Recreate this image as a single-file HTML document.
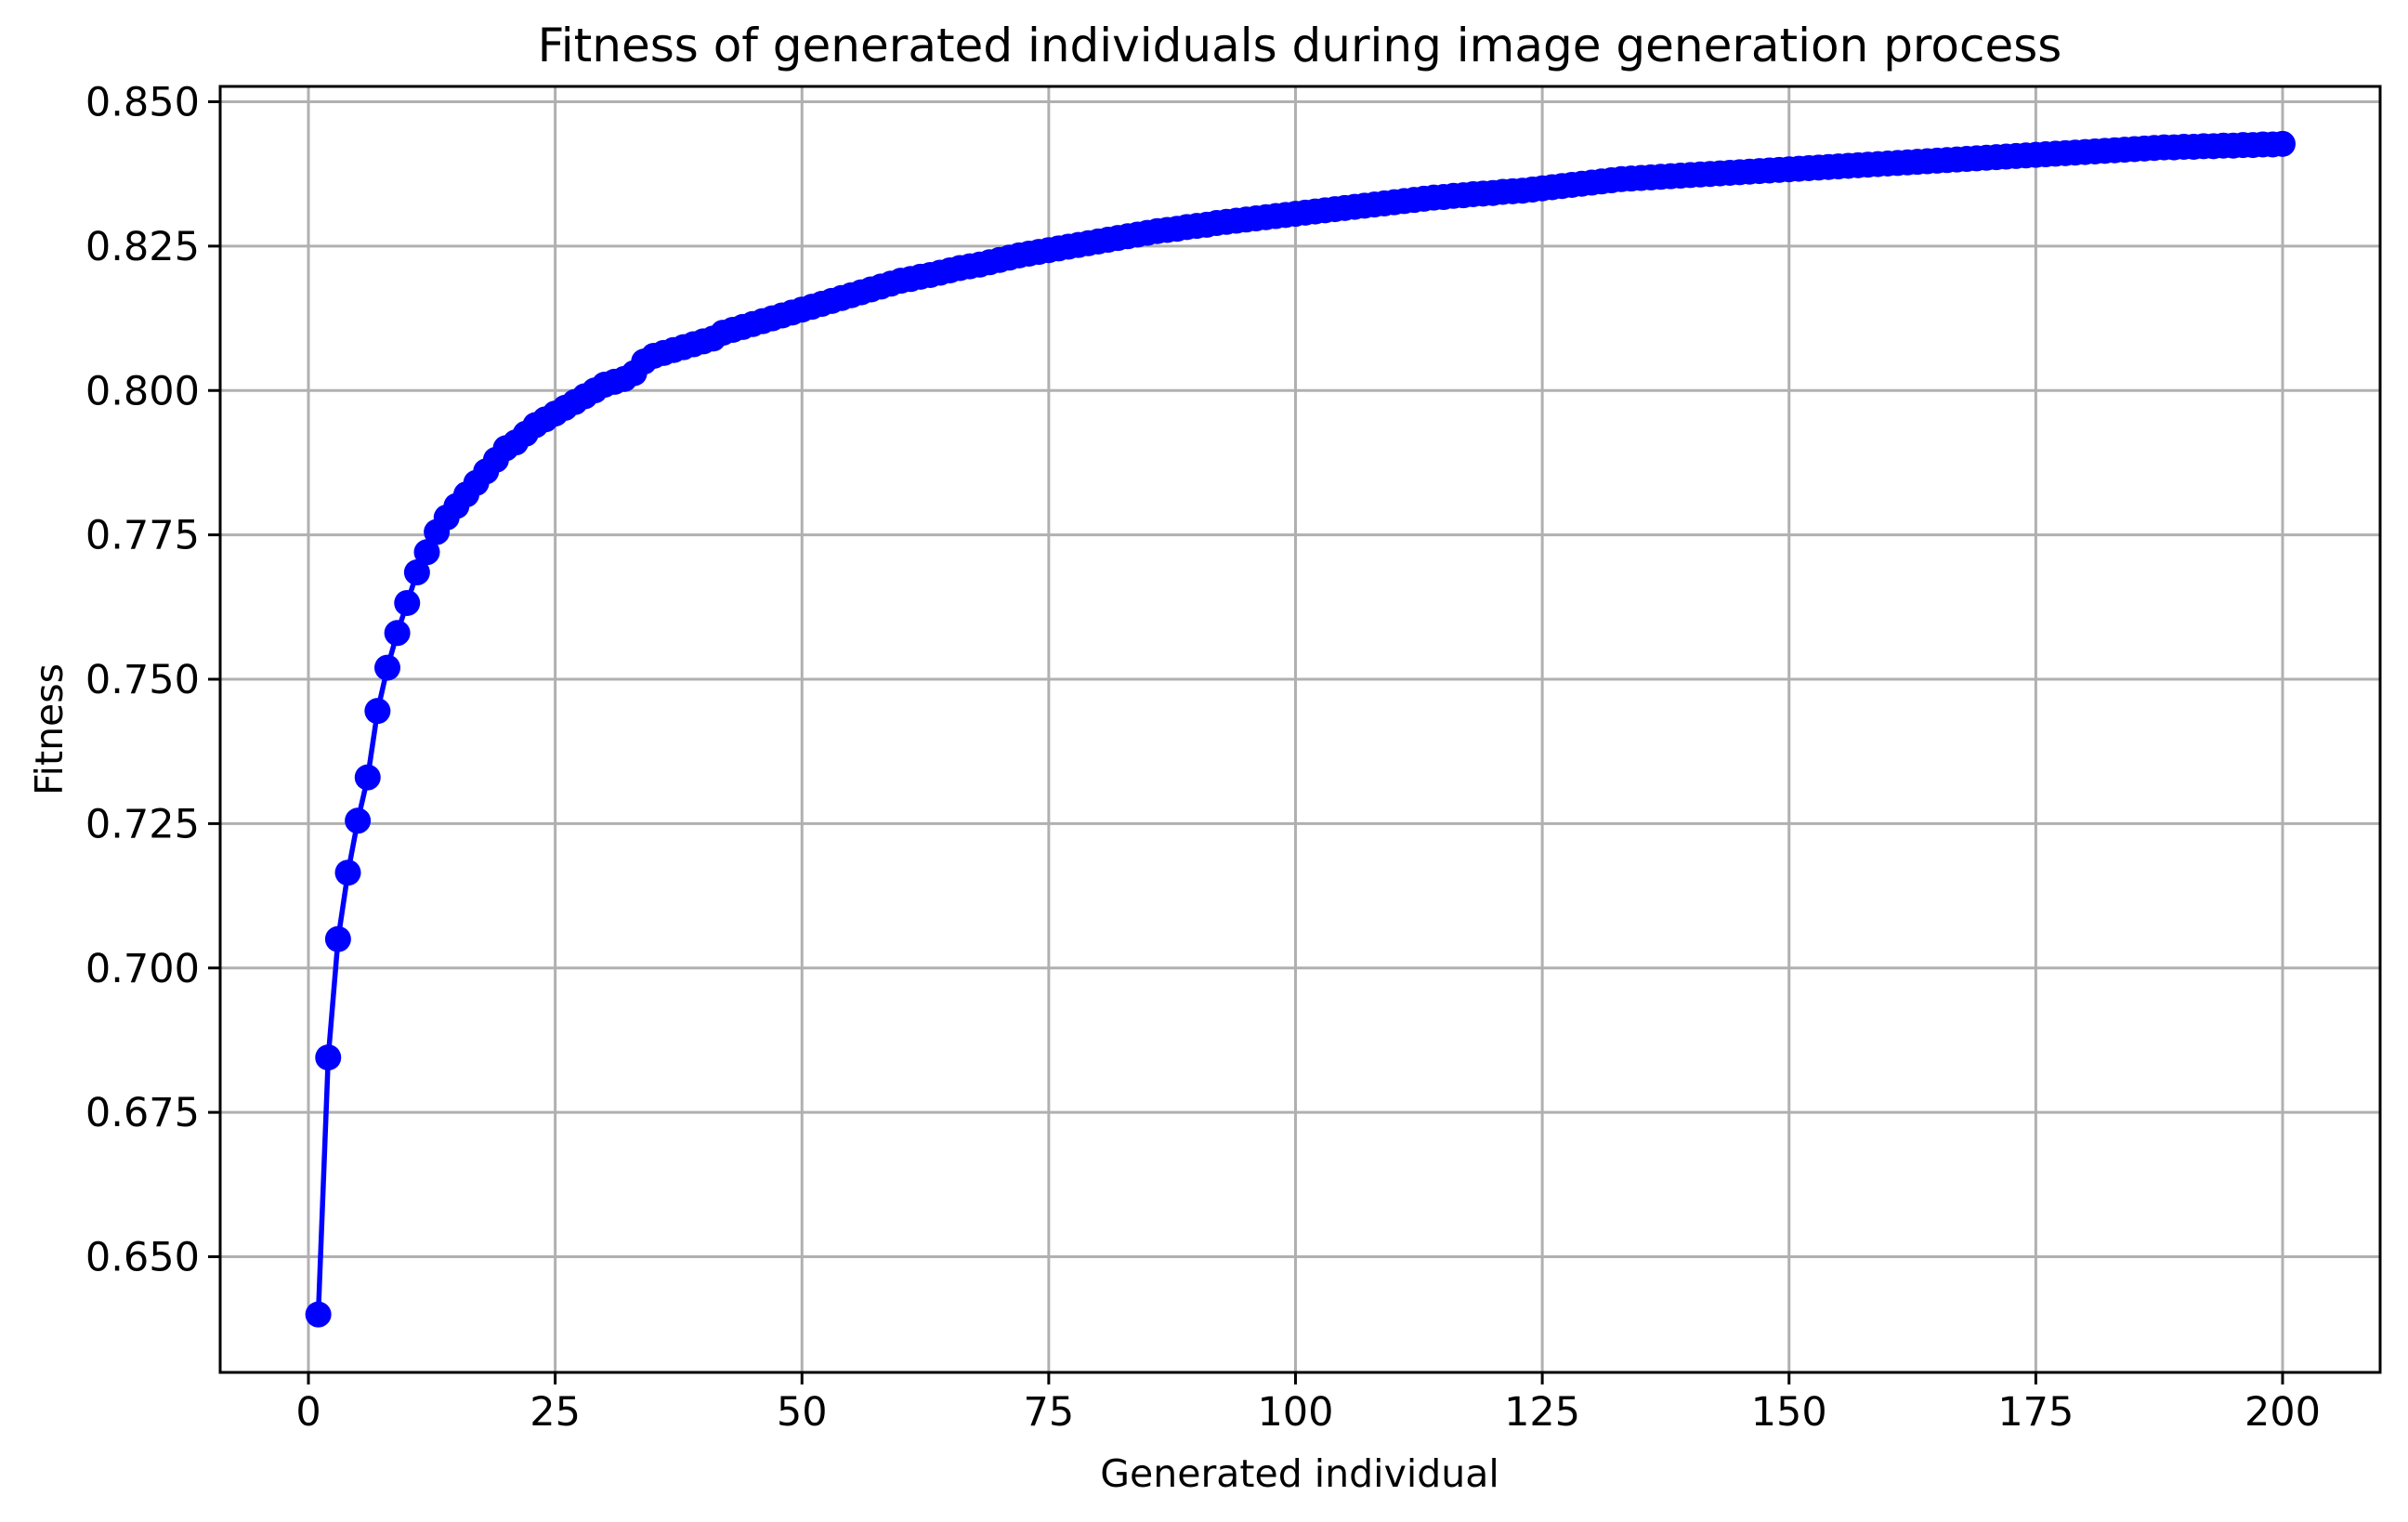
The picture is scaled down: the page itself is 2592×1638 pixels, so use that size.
<!DOCTYPE html>
<html><head><meta charset="utf-8"><style>
html,body{margin:0;padding:0;background:#fff;}
svg{display:block;font-family:"DejaVu Sans","Liberation Sans",sans-serif;}
</style></head><body>
<svg id="chart" width="2592" height="1638" viewBox="0 0 2592 1638" xmlns="http://www.w3.org/2000/svg">
<rect width="2592" height="1638" fill="#fff"/>
<g id="grid"></g>
<g id="series"></g>
<rect x="237" y="93" width="2325" height="1384" fill="none" stroke="#000" stroke-width="3"/>
<g id="ticks"></g>
<text x="1399" y="66" font-size="50" text-anchor="middle">Fitness of generated individuals during image generation process</text>
<text x="1399" y="1600" font-size="41" text-anchor="middle">Generated individual</text>
<text x="0" y="0" font-size="41" text-anchor="middle" transform="translate(67,785) rotate(-90)">Fitness</text>
</svg>
<script>
const xTicks = [0,25,50,75,100,125,150,175,200];
const yTicks = [0.650,0.675,0.700,0.725,0.750,0.775,0.800,0.825,0.850];
const fitness = [0.640,0.6845,0.705,0.7165,0.7255,0.733,0.7445,0.752,0.758,0.7632,0.7685,0.772,0.7755,0.778,0.780,0.782,0.784,0.786,0.788,0.790,0.791,0.7925,0.794,0.795,0.796,0.797,0.798,0.799,0.800,0.801,0.8015,0.802,0.803,0.805,0.806,0.8065,0.807,
0.8075,0.808,0.8085,0.809,0.810,0.8105,0.811,0.8115,0.812,0.8125,0.813,0.8135,0.814,
0.8145,0.815,0.8155,0.816,0.8165,0.817,0.8175,0.818,0.8185,0.819,0.8193,0.8197,0.820,0.8204,0.8208,0.8212,0.8215,0.8218,0.8222,0.8226,0.823,0.8234,0.8237,0.824,0.8243,
0.8246,0.8249,0.8252,0.8255,0.8258,0.8261,0.8264,0.8267,0.827,0.8273,0.8276,0.8278,0.828,0.8283,0.8285,0.8287,0.829,0.8292,0.8294,0.8296,0.8298,0.830,0.8302,0.8304,0.8306,
0.8308,0.831,0.8312,0.8314,0.8316,0.8318,0.832,0.8322,0.8324,0.8326,0.8328,0.833,0.8332,0.8334,0.8335,0.8337,0.8338,0.834,0.8341,0.8342,0.8344,0.8345,0.8346,0.8348,0.835,
0.8352,0.8354,0.8356,0.8358,0.836,0.8362,0.8364,0.8366,0.8367,0.8368,0.8369,0.837,0.8371,0.8372,0.8373,0.8374,0.8375,0.8376,0.8377,0.8378,0.8379,0.838,0.8381,0.8382,0.8383,
0.8384,0.8385,0.8386,0.8387,0.8388,0.8389,0.839,0.8391,0.8392,0.8393,0.8394,0.8395,0.8396,0.8397,0.8398,0.8399,0.84,0.8401,0.8402,0.8403,0.8404,0.8405,0.8406,0.8407,0.8408,
0.8409,0.841,0.8411,0.8412,0.8413,0.8414,0.8415,0.8416,0.8417,0.8418,0.8419,0.842,0.8421,0.8421,0.8422,0.8422,0.8423,0.8423,0.8424,0.8424,0.8425,0.8425,0.8426,0.8426,0.8427];

const NS = "http://www.w3.org/2000/svg";
const L = 237, R = 2562, T = 93, B = 1477;
function xs(v){ return 332 + v * (2457 - 332) / 200; }
function ys(v){ return 1352.5 - (v - 0.65) * (1352.5 - 109.5) / 0.2; }
function mk(tag, attrs, parent){ const e = document.createElementNS(NS, tag); for (const k in attrs) e.setAttribute(k, attrs[k]); parent.appendChild(e); return e; }

const grid = document.getElementById('grid');
const ticks = document.getElementById('ticks');
xTicks.forEach(v => {
  const x = xs(v);
  const g = mk('line', {x1:x, x2:x, y1:T, y2:B, stroke:'#b0b0b0', 'stroke-width':3}, grid);
  
  
  const t = mk('line', {x1:x, x2:x, y1:B, y2:B+13, stroke:'#000', 'stroke-width':3}, ticks);
  
  
  const lb = mk('text', {x:x, y:B+57, 'font-size':43, 'text-anchor':'middle'}, ticks);
  lb.textContent = String(v);
  
  
});
yTicks.forEach(v => {
  const y = ys(v);
  const g = mk('line', {x1:L, x2:R, y1:y, y2:y, stroke:'#b0b0b0', 'stroke-width':3}, grid);
  
  
  const t = mk('line', {x1:L-13, x2:L, y1:y, y2:y, stroke:'#000', 'stroke-width':3}, ticks);
  
  
  const lb = mk('text', {x:L-22, y:y+15, 'font-size':43, 'text-anchor':'end'}, ticks);
  lb.textContent = v.toFixed(3);
  
  
});

const series = document.getElementById('series');
const pts = fitness.map((v, i) => xs(i + 1).toFixed(1) + ',' + ys(v).toFixed(1)).join(' ');
const line = mk('polyline', {points:pts, fill:'none', stroke:'#0000ff', 'stroke-width':5.5, 'stroke-linejoin':'round'}, series);


fitness.forEach((v, i) => {
  const c = mk('circle', {cx:xs(i + 1), cy:ys(v), r:14, fill:'#0000ff'}, series);
  
  
});
</script>
</body></html>
